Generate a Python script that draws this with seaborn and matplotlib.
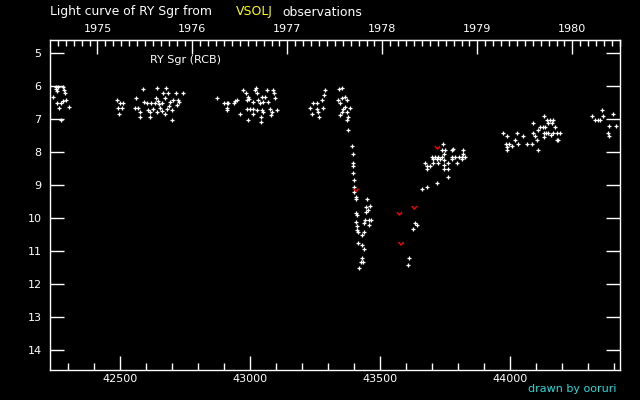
import numpy as np
import pandas as pd
import seaborn as sns
from matplotlib import pyplot as plt
from matplotlib.path import Path
from matplotlib.ticker import MultipleLocator, FixedLocator

# visual estimates (JD - 2400000, magnitude)
jd_vis = [
    # late 1974
    42254, 42262, 42254, 42281, 42285, 42258, 42289, 42243, 42281, 42293, 42258, 42273, 42266, 42304, 42273,
    # 1975 season
    42487, 42500, 42513, 42494, 42507, 42498, 42562, 42558, 42571, 42577, 42577, 42590, 42594, 42603, 42609,
    42616, 42616, 42628, 42635, 42639, 42644, 42641, 42654, 42661, 42667, 42673, 42677, 42680, 42686, 42693,
    42699, 42699, 42705, 42716, 42718, 42724, 42728, 42741, 42673, 42645, 42650, 42620, 42660, 42690,
    # 1976 season
    42874, 42900, 42911, 42917, 42911, 42913, 42939, 42943, 42951, 42962, 42974, 42985, 42987, 42994, 42998,
    42987, 43000, 43013, 43026, 43013, 43019, 43023, 43028, 43032, 43039, 43045, 43051, 43045, 43043, 43043,
    43051, 43058, 43067, 43071, 43077, 43084, 43080, 43090, 43093, 43096, 43103, 42994, 43013,
    # 1977 season
    43231, 43237, 43244, 43257, 43259, 43263, 43267, 43276, 43282, 43285, 43289, 43344, 43353, 43340, 43346,
    43353, 43366, 43372, 43359, 43366, 43353, 43346, 43372, 43378, 43372, 43385,
    # decline
    43378, 43394, 43398, 43398, 43398, 43398, 43401, 43401, 43401, 43407, 43408, 43408, 43410, 43407, 43410,
    43410, 43417, 43430, 43440, 43414, 43432, 43440, 43430, 43426, 43434, 43421, 43449, 43445, 43445, 43462,
    43453, 43443, 43440, 43459, 43459, 43466,
    # recovery
    43635, 43628, 43643, 43613, 43609, 43663, 43682, 43721, 43763, 43744,
    43673, 43680, 43682, 43693, 43699, 43712, 43725, 43738, 43705, 43719, 43731, 43705, 43725, 43747, 43747,
    43747, 43747, 43763, 43763, 43738, 43750, 43776, 43782, 43776, 43789, 43802, 43814, 43827, 43776, 43795,
    43818, 43820, 43814,
    # 1979 season
    43972, 43990, 43985, 43990, 43990, 43998, 44007, 44020, 44027, 44032, 44051, 44064, 44084, 44090, 44090,
    44096, 44105, 44109, 44109, 44116, 44128, 44135, 44131, 44131, 44139, 44148, 44157, 44167, 44180, 44193,
    44180, 44186, 44131, 44141, 44147, 44154, 44160, 44167, 44173,
    # 1980 season
    44314, 44352, 44356, 44327, 44340, 44346, 44382, 44375, 44379, 44397, 44409,
]
mag_vis = [
    6.03, 6.03, 6.09, 6.03, 6.12, 6.15, 6.21, 6.33, 6.45, 6.42, 6.52, 6.52, 6.67, 6.64, 7.03,
    6.42, 6.52, 6.52, 6.65, 6.65, 6.83, 6.35, 6.65, 6.66, 6.78, 6.93, 6.07, 6.47, 6.52, 6.73,
    6.78, 6.93, 6.68, 6.52, 6.37, 6.04, 6.78, 6.66, 6.52, 6.22, 6.37, 6.04, 6.68, 6.22, 6.47,
    6.73, 7.03, 6.42, 6.22, 6.58, 6.42, 6.47, 6.22, 6.83, 6.45, 6.55, 6.50, 6.75, 6.60,
    6.35, 6.52, 6.52, 6.52, 6.65, 6.73, 6.52, 6.45, 6.42, 6.83, 6.12, 6.22, 6.42, 6.32, 6.39,
    6.68, 6.68, 6.68, 6.73, 6.47, 6.12, 6.05, 6.22, 6.42, 6.52, 6.32, 6.47, 6.73, 6.93, 7.08,
    6.78, 6.32, 6.12, 6.47, 6.68, 6.78, 6.88, 6.12, 6.22, 6.37, 6.73, 7.03, 6.83,
    6.66, 6.83, 6.52, 6.52, 6.68, 6.78, 6.93, 6.42, 6.66, 6.27, 6.12, 6.09, 6.05, 6.42, 6.52,
    6.37, 6.32, 6.42, 6.68, 6.63, 6.78, 6.88, 6.78, 6.93, 7.03, 6.66,
    7.33, 7.82, 8.04, 8.34, 8.42, 8.62, 8.83, 9.05, 9.20, 9.35, 9.43, 9.84, 9.91, 10.13, 10.23,
    10.36, 10.41, 10.52, 10.43, 10.74, 10.82, 10.92, 11.22, 11.34, 11.34, 11.52, 9.43, 9.66, 9.81, 9.64,
    9.74, 10.06, 10.14, 10.06, 10.21, 10.06,
    10.14, 10.34, 10.21, 11.22, 11.43, 9.13, 9.05, 8.92, 8.75, 7.74,
    8.34, 8.42, 8.52, 8.42, 8.14, 8.14, 8.14, 8.14, 8.22, 8.22, 8.22, 8.34, 8.34, 8.04, 8.24,
    8.39, 8.52, 8.34, 8.52, 7.92, 7.92, 7.92, 7.89, 8.14, 8.14, 8.14, 8.14, 8.14, 8.22, 8.34,
    7.92, 8.04, 8.22,
    7.43, 7.52, 7.74, 7.84, 7.92, 7.74, 7.82, 7.64, 7.43, 7.74, 7.52, 7.74, 7.74, 7.13, 7.43,
    7.52, 7.64, 7.92, 7.33, 7.23, 7.23, 7.23, 7.43, 7.54, 7.43, 7.43, 7.48, 7.43, 7.43, 7.43,
    7.64, 7.64, 6.91, 7.03, 7.13, 7.03, 7.13, 7.03, 7.23,
    6.91, 6.73, 6.91, 7.03, 7.03, 7.03, 7.21, 7.43, 7.52, 6.83, 7.21,
]

# "fainter than" estimates
jd_faint = [43408, 43575, 43632, 43581, 43721]
mag_faint = [9.15, 9.86, 9.68, 10.77, 7.86]

year_ticks = [1975, 1976, 1977, 1978, 1979, 1980]

df_vis = pd.DataFrame({'jd': jd_vis, 'mag': mag_vis})
df_faint = pd.DataFrame({'jd': jd_faint, 'mag': mag_faint})

plt.rcParams['font.family'] = ['DejaVu Sans']
fig = plt.figure(figsize=(6.4, 4.0), dpi=100, facecolor='black')
ax = fig.add_axes([50 / 640, 30 / 400, 570 / 640, 330 / 400])
ax.set_facecolor('black')

sns.scatterplot(data=df_vis, x='jd', y='mag', marker='+', s=12, color='white',
                linewidth=0.9, ax=ax, legend=False)
vmark = Path([(-1, 0.6), (0, -0.6), (1, 0.6)], [Path.MOVETO, Path.LINETO, Path.LINETO])
sns.scatterplot(data=df_faint, x='jd', y='mag', marker=vmark, s=14, facecolors='none',
                edgecolor='red', color='red', linewidth=1.0, ax=ax, legend=False)

ax.set_xlim(42231, 44423)
ax.set_ylim(14.6, 4.6)
ax.set_xlabel('')
ax.set_ylabel('')

for sp in ax.spines.values():
    sp.set_color('white')
    sp.set_linewidth(1)

ax.xaxis.set_major_locator(MultipleLocator(500))
ax.xaxis.set_minor_locator(MultipleLocator(100))
ax.yaxis.set_major_locator(MultipleLocator(1))
ax.tick_params(axis='x', which='major', direction='in', length=10, width=1, color='white',
               labelcolor='white', labelsize=8, pad=3, top=False)
ax.tick_params(axis='x', which='minor', direction='in', length=5, width=1, color='white', top=False)
ax.tick_params(axis='y', which='major', direction='in', length=10, width=1, color='white',
               labelcolor='white', labelsize=8, pad=6, left=True, right=True)

# calendar year on top axis
jd_1975 = 42413.5
sec = ax.secondary_xaxis('top', functions=(lambda j: 1975 + (j - jd_1975) / 365.25,
                                           lambda y: jd_1975 + (y - 1975) * 365.25))
sec.xaxis.set_major_locator(FixedLocator(year_ticks))
sec.xaxis.set_minor_locator(MultipleLocator(1 / 12))
sec.set_xticklabels([str(y) for y in year_ticks])
sec.tick_params(axis='x', which='major', direction='in', length=10, width=1, color='white',
                labelcolor='white', labelsize=8, pad=4)
sec.tick_params(axis='x', which='minor', direction='in', length=4, width=1, color='white')
sec.spines['top'].set_color('white')

ax.text(42616, 5.22, 'RY Sgr (RCB)', color='white', fontsize=8, va='center', ha='left')

fig.text(50 / 640, 1 - 12 / 400, 'Light curve of RY Sgr from', color='white', fontsize=8.9, va='center')
fig.text(236 / 640, 1 - 12 / 400, 'VSOLJ', color='yellow', fontsize=8.9, va='center')
fig.text(282 / 640, 1 - 12 / 400, 'observations', color='white', fontsize=8.9, va='center')
fig.text(617 / 640, 1 - 389 / 400, 'drawn by ooruri', color='#22dddd', fontsize=8, va='center', ha='right')

fig.savefig('out.png', dpi=100, facecolor='black')
